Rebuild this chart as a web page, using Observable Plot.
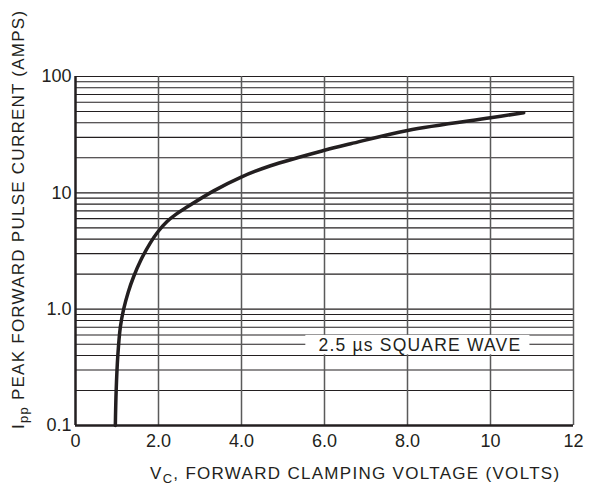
<!DOCTYPE html>
<html>
<head>
<meta charset="utf-8">
<script src="https://cdn.jsdelivr.net/npm/d3@7"></script>
<script src="https://cdn.jsdelivr.net/npm/@observablehq/plot@0.6"></script>
<style>
  html, body { margin: 0; padding: 0; background: #fff; }
  svg { font-family: "Liberation Sans", Arial, sans-serif; }
</style>
</head>
<body>
<div id="chart"></div>
<script>
// Curve: forward clamping voltage (V) vs peak forward pulse current (A)
const voltage = [0.96, 0.98, 1.02, 1.08, 1.16, 1.27, 1.40, 1.57, 1.80, 2.0, 2.2, 2.41, 2.65, 3.33, 3.98, 4.70, 6.0, 6.63, 8.0, 10.0, 10.8];
const current = [0.1, 0.2, 0.4, 0.7, 1.0, 1.40, 1.90, 2.62, 3.7, 4.7, 5.65, 6.5, 7.4, 10.4, 13.6, 17.1, 23.2, 26.4, 34.4, 44.2, 48.8];

const xTicks = [0, 2, 4, 6, 8, 10, 12];
const xTickLabels = ["0", "2.0", "4.0", "6.0", "8.0", "10", "12"];
const yTicks = [0.1, 1, 10, 100];
const yTickLabels = ["0.1", "1.0", "10", "100"];
const yMinorGrid = [0.2,0.3,0.4,0.5,0.6,0.7,0.8,0.9,1,2,3,4,5,6,7,8,9,10,20,30,40,50,60,70,80,90,100];
const xGrid = [2, 4, 6, 8, 10, 12];

const noteText = ["2.5 \u00b5s SQUARE WAVE"];
const noteX = [8.3];
const noteY = [0.49];
const noteBox = [{x1: 5.55, x2: 10.95, y1: 0.405, y2: 0.595}];

const curve = voltage.map((v, i) => ({v, i: current[i]}));
const note = noteText.map((t, k) => ({t, x: noteX[k], y: noteY[k]}));

const chart = Plot.plot({
  width: 589,
  height: 489,
  marginLeft: 75,
  marginRight: 16,
  marginTop: 76,
  marginBottom: 64,
  style: {fontFamily: "'Liberation Sans', Arial, sans-serif", fontSize: "18px", color: "#231f20", background: "#fff"},
  x: {domain: [0, 12], label: null},
  y: {type: "log", domain: [0.1, 100], label: null},
  marks: [
    Plot.ruleY(yMinorGrid, {stroke: "#231f20", strokeWidth: 1.1}),
    Plot.ruleX(xGrid, {stroke: "#5a5a5a", strokeWidth: 1.5}),
    Plot.rect(noteBox, {x1: "x1", x2: "x2", y1: "y1", y2: "y2", fill: "#fff"}),
    Plot.text(note, {x: "x", y: "y", text: "t", fontSize: 17.5, fill: "#231f20", className: "note"}),
    Plot.ruleX([0], {stroke: "#231f20", strokeWidth: 2.5}),
    Plot.ruleY([0.1], {stroke: "#231f20", strokeWidth: 2.5}),
    Plot.line(curve, {x: "v", y: "i", curve: "catmull-rom", stroke: "#231f20", strokeWidth: 3.5}),
    Plot.axisX({ticks: xTicks, tickFormat: d => xTickLabels[xTicks.indexOf(d)], tickSize: 0, tickPadding: 9, fontSize: 18, fill: "#231f20", label: null}),
    Plot.axisY({ticks: yTicks, tickFormat: d => yTickLabels[yTicks.indexOf(d)], tickSize: 0, tickPadding: 4, fontSize: 18, fill: "#231f20", label: null})
  ]
});

document.getElementById("chart").appendChild(chart);

// Axis titles with subscripts
const svg = d3.select(chart);
svg.selectAll(".note text").attr("letter-spacing", "1.2px");
const yl = svg.append("text")
  .attr("transform", "translate(24,429) rotate(-90)")
  .attr("text-anchor", "start")
  .attr("font-size", 17)
  .attr("letter-spacing", "1.25px")
  .attr("fill", "#231f20");
yl.append("tspan").text("I");
yl.append("tspan").attr("font-size", 13).attr("dy", 4).text("pp");
yl.append("tspan").attr("dy", -4).text(" PEAK FORWARD PULSE CURRENT (AMPS)");

const xl = svg.append("text")
  .attr("x", 150).attr("y", 479)
  .attr("text-anchor", "start")
  .attr("font-size", 17)
  .attr("letter-spacing", "1.3px")
  .attr("fill", "#231f20");
xl.append("tspan").text("V");
xl.append("tspan").attr("font-size", 13).attr("dy", 4).text("C");
xl.append("tspan").attr("dy", -4).text(", FORWARD CLAMPING VOLTAGE (VOLTS)");
</script>
</body>
</html>
